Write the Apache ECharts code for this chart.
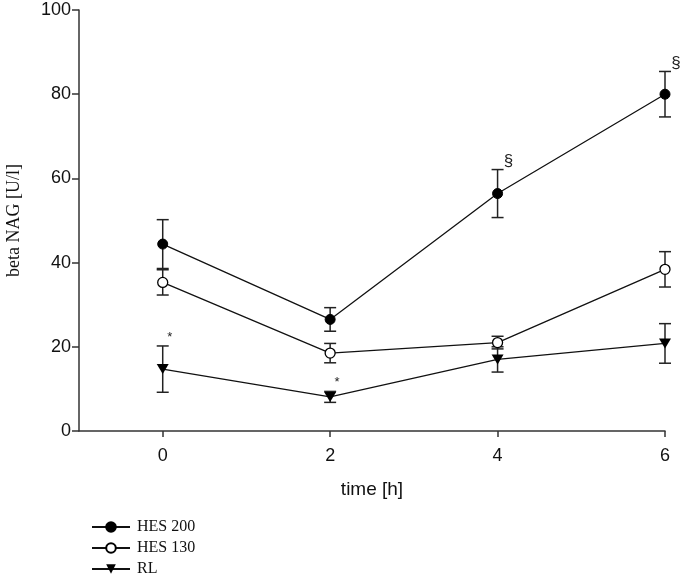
<!DOCTYPE html>
<html>
<head>
<meta charset="utf-8">
<script src="https://cdn.jsdelivr.net/npm/echarts@6/dist/echarts.min.js"></script>
<style>
html,body{margin:0;padding:0;background:#fff;}
#chart{width:685px;height:580px;}
</style>
</head>
<body>
<div id="chart"></div>
<script>
const times = [0, 2, 4, 6];
const xTickValues = [0, 2, 4, 6];
const hes200 = [44.4, 26.5, 56.4, 80.0];
const hes200Err = [5.8, 2.8, 5.7, 5.4];
const hes130 = [35.3, 18.5, 21.0, 38.4];
const hes130Err = [3.0, 2.3, 1.5, 4.2];
const rl = [14.7, 8.1, 17.0, 20.8];
const rlErr = [5.5, 1.3, 3.0, 4.7];
const hes200Marks = ['', '', '§', '§'];
const rlMarks = ['*', '*', '', ''];

const chart = echarts.init(document.getElementById('chart'), null, {renderer: 'canvas'});

function pairs(ys) { return times.map((t, i) => [t, ys[i]]); }
function triples(ys, es) { return times.map((t, i) => [t, ys[i], es[i]]); }

function errSeries(ys, es) {
  return {
    type: 'custom',
    data: triples(ys, es),
    z: 1,
    silent: true,
    renderItem: function (params, api) {
      const x = api.value(0), m = api.value(1), e = api.value(2);
      const top = api.coord([x, m + e]);
      const bot = api.coord([x, m - e]);
      const hw = 6;
      const st = {stroke: '#222', lineWidth: 1.5};
      return {
        type: 'group',
        children: [
          {type: 'line', shape: {x1: top[0], y1: top[1], x2: bot[0], y2: bot[1]}, style: st},
          {type: 'line', shape: {x1: top[0] - hw, y1: top[1], x2: top[0] + hw, y2: top[1]}, style: st},
          {type: 'line', shape: {x1: bot[0] - hw, y1: bot[1], x2: bot[0] + hw, y2: bot[1]}, style: st}
        ]
      };
    }
  };
}

function markSeries(ys, es, marks, dx, dy, size) {
  return {
    type: 'custom',
    data: triples(ys, es),
    z: 5,
    silent: true,
    renderItem: function (params, api) {
      const txt = marks[params.dataIndex];
      if (!txt) return null;
      const x = api.value(0), m = api.value(1), e = api.value(2);
      const top = api.coord([x, m + e]);
      return {
        type: 'text',
        x: top[0] + dx,
        y: top[1] + dy,
        style: {text: txt, fontSize: size, fontFamily: 'Liberation Sans, Arial, sans-serif', fill: '#222', align: 'center', verticalAlign: 'middle'}
      };
    }
  };
}

const triPath = 'path://M0,0 L12,0 L6,10 Z';

chart.setOption({
  animation: false,
  backgroundColor: '#fff',
  grid: {left: 79, right: 20, top: 10, bottom: 149, outerBoundsMode: 'none', containLabel: false},
  legend: {
    orient: 'vertical',
    left: 91,
    top: 519,
    height: 60,
    padding: 0,
    itemWidth: 38,
    itemHeight: 12,
    itemGap: 5,
    textStyle: {fontFamily: 'Liberation Serif, Times New Roman, serif', fontSize: 16, color: '#111', padding: [0, 0, 0, 2]},
    data: ['HES 200', 'HES 130', 'RL']
  },
  xAxis: {
    type: 'value',
    min: -1,
    max: 6,
    name: 'time [h]',
    nameLocation: 'middle',
    nameGap: 49,
    nameTextStyle: {fontFamily: 'Liberation Sans, Arial, sans-serif', fontSize: 19, color: '#111'},
    axisLine: {show: true, onZero: false, lineStyle: {color: '#333', width: 1.5}},
    axisTick: {show: true, customValues: xTickValues, length: 6, inside: false, lineStyle: {color: '#333', width: 1.5}},
    axisLabel: {customValues: xTickValues, margin: 16, fontFamily: 'Liberation Sans, Arial, sans-serif', fontSize: 18, color: '#111'},
    splitLine: {show: false}
  },
  yAxis: {
    type: 'value',
    min: 0,
    max: 100,
    interval: 20,
    name: 'beta NAG [U/l]',
    nameLocation: 'middle',
    nameGap: 56,
    nameTextStyle: {fontFamily: 'Liberation Serif, Times New Roman, serif', fontSize: 18, color: '#111'},
    axisLine: {show: true, onZero: false, lineStyle: {color: '#333', width: 1.5}},
    axisTick: {show: true, length: 7, inside: false, lineStyle: {color: '#333', width: 1.5}},
    axisLabel: {margin: 8, fontFamily: 'Liberation Sans, Arial, sans-serif', fontSize: 18, color: '#111'},
    splitLine: {show: false}
  },
  series: [
    errSeries(hes200, hes200Err),
    errSeries(hes130, hes130Err),
    errSeries(rl, rlErr),
    {
      name: 'HES 200', type: 'line', data: pairs(hes200), z: 3,
      symbol: 'circle', symbolSize: 10,
      lineStyle: {color: '#111', width: 1.3},
      itemStyle: {color: '#000', borderColor: '#000', borderWidth: 1}
    },
    {
      name: 'HES 130', type: 'line', data: pairs(hes130), z: 3,
      symbol: 'circle', symbolSize: 10,
      lineStyle: {color: '#111', width: 1.3},
      itemStyle: {color: '#fff', borderColor: '#000', borderWidth: 1.3}
    },
    {
      name: 'RL', type: 'line', data: pairs(rl), z: 3,
      symbol: triPath, symbolSize: [12, 10],
      lineStyle: {color: '#111', width: 1.3},
      itemStyle: {color: '#000', borderColor: '#000', borderWidth: 0}
    },
    markSeries(hes200, hes200Err, hes200Marks, 11, -8, 17),
    markSeries(rl, rlErr, rlMarks, 7, -9, 13)
  ]
});
</script>
</body>
</html>
